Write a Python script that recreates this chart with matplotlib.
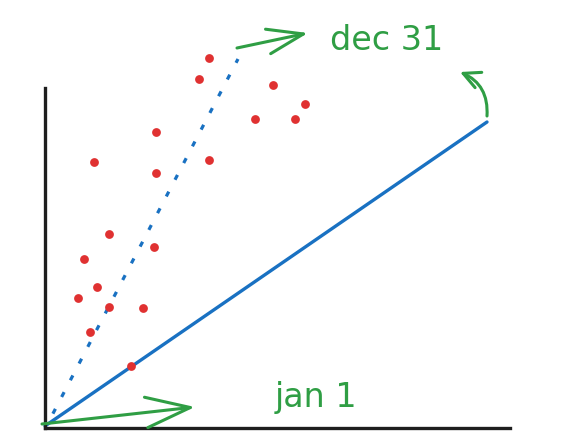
import matplotlib
matplotlib.use("Agg")
from matplotlib import pyplot as plt

# sketch values, in the chart's own units (origin at the axes corner)
dot_x = [164, 154, 228, 260, 210, 250, 111, 49, 164, 111,
         64, 109, 39, 52, 33, 64, 98, 45, 86]
dot_y = [370, 349, 343, 324, 309, 309, 296, 266, 268, 255,
         194, 181, 169, 141, 130, 121, 120, 96, 62]

solid_x = [0, 442]
solid_y = [2, 306]
dotted_x = [2, 193]
dotted_y = [3, 369]

labels = ["jan 1", "dec 31"]

red = "#e03131"
blue = "#1971c2"
green = "#2f9e44"
ink = "#1e1e1e"

fig = plt.figure(figsize=(5.84, 4.4), dpi=100)
ax = fig.add_axes([45 / 584, 12 / 440, 465 / 584, 340 / 440])
ax.set_xlim(0, 465)
ax.set_ylim(0, 340)

for side in ["top", "right"]:
    ax.spines[side].set_visible(False)
for side in ["left", "bottom"]:
    ax.spines[side].set_linewidth(2.4)
    ax.spines[side].set_color(ink)
ax.set_xticks([])
ax.set_yticks([])

ax.plot(solid_x, solid_y, color=blue, lw=2.4, solid_capstyle="round", clip_on=False)
ax.plot(dotted_x, dotted_y, color=blue, lw=2.3, linestyle=(1.9, (1.7, 4.2)), clip_on=False)
ax.scatter(dot_x, dot_y, s=40, color=red, zorder=3, clip_on=False, linewidths=0)

arrow_kw = dict(color=green, lw=2.2, shrinkA=0, shrinkB=0)

# jan 1 arrow along the bottom
ax.annotate("", xy=(150, 21), xytext=(-3, 4), annotation_clip=False,
            arrowprops=dict(arrowstyle="->,head_length=3.2,head_width=1.1",
                            mutation_scale=10, **arrow_kw))
ax.text(230, 21, labels[0], color=green, fontsize=24, ha="left", va="baseline")

# dec 31 arrow at the top
ax.annotate("", xy=(263, 395), xytext=(192, 380), annotation_clip=False,
            arrowprops=dict(arrowstyle="->,head_length=2.6,head_width=0.9",
                            mutation_scale=10, **arrow_kw))
ax.text(285, 378, labels[1], color=green, fontsize=24, ha="left", va="baseline")

# small curved arrow off the end of the solid line
ax.annotate("", xy=(415, 356), xytext=(442, 312), annotation_clip=False,
            arrowprops=dict(arrowstyle="->,head_length=1.2,head_width=0.6",
                            connectionstyle="arc3,rad=0.35",
                            mutation_scale=10, **arrow_kw))

fig.savefig("out.png", dpi=100, facecolor="white")
